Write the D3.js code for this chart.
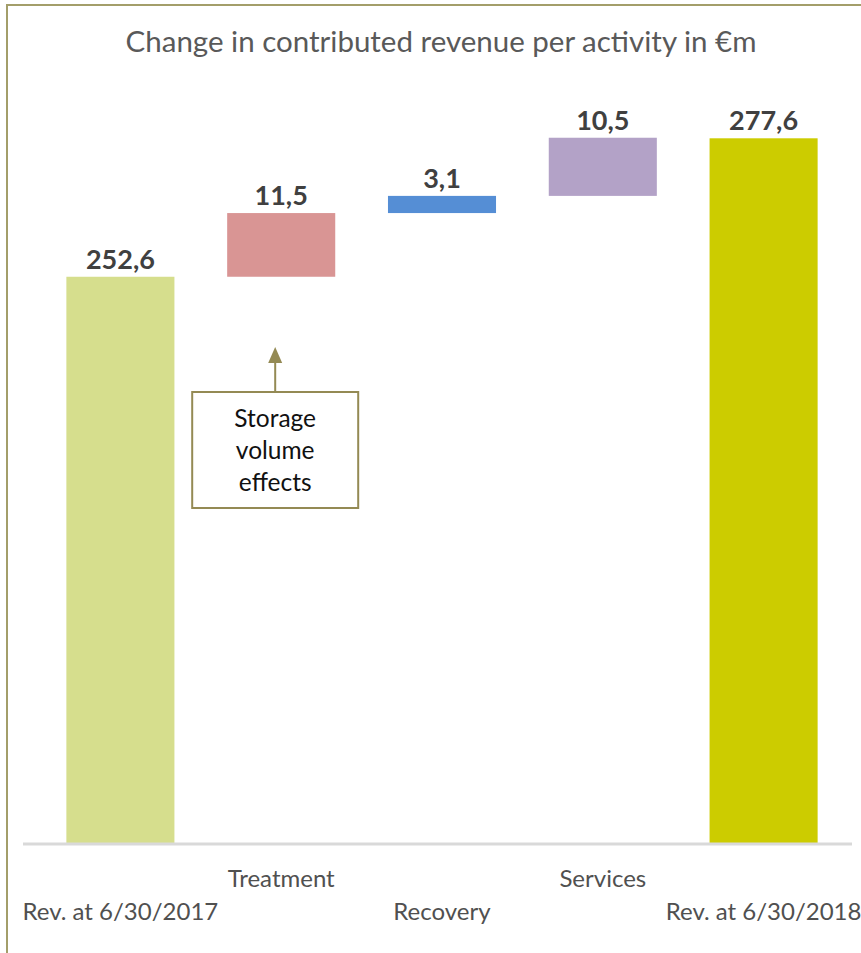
<!DOCTYPE html>
<html>
<head>
<meta charset="utf-8">
<script src="https://cdn.jsdelivr.net/npm/d3@7"></script>
<style>
  body { margin: 0; background: #fff; }
  svg { display: block; font-family: Lato, "Open Sans", sans-serif; }
</style>
</head>
<body>
<div id="chart"></div>
<script>
// waterfall data
let categories = ["Rev. at 6/30/2017", "Treatment", "Recovery", "Services", "Rev. at 6/30/2018"];
let values = [252.6, 11.5, 3.1, 10.5, 277.6];
let isTotal = [true, false, false, false, true];
let labels = ["252,6", "11,5", "3,1", "10,5", "277,6"];
let colors = ["#D6DE8D", "#D99594", "#558ED5", "#B3A2C7", "#CCCC00"];

let width = 861;
let height = 953;

let svg = d3.select("#chart").append("svg")
  .attr("width", width)
  .attr("height", height);

// outer frame (only left and top visible)
svg.append("path")
  .attr("d", "M7,953 V5 H861")
  .attr("fill", "none")
  .attr("stroke", "#A39E6A")
  .attr("stroke-width", 2);

svg.append("text")
  .attr("x", 441)
  .attr("y", 52)
  .attr("text-anchor", "middle")
  .attr("fill", "#595959")
  .style("font-size", "29.5px")
  .text("Change in contributed revenue per activity in €m");

let x = d3.scaleBand()
  .domain(categories)
  .range([40, 844])
  .paddingInner(0.328)
  .paddingOuter(0.164);

let y = d3.scaleLinear()
  .domain([150, 280])
  .range([845, 125]);

// compute start/end for each step
let running = 0;
let steps = categories.map(function(c, i) {
  let start, end;
  if (isTotal[i]) {
    start = y.domain()[0];
    end = values[i];
    running = values[i];
  } else {
    start = running;
    end = running + values[i];
    running = end;
  }
  return { cat: c, start: start, end: end, label: labels[i], color: colors[i] };
});

svg.selectAll("rect.bar")
  .data(steps)
  .enter().append("rect")
  .attr("class", "bar")
  .attr("x", function(d) { return x(d.cat); })
  .attr("width", x.bandwidth())
  .attr("y", function(d) { return y(Math.max(d.start, d.end)); })
  .attr("height", function(d) { return Math.abs(y(d.start) - y(d.end)); })
  .attr("fill", function(d) { return d.color; });

svg.selectAll("text.val")
  .data(steps)
  .enter().append("text")
  .attr("class", "val")
  .attr("x", function(d) { return x(d.cat) + x.bandwidth() / 2; })
  .attr("y", function(d) { return y(Math.max(d.start, d.end)) - 8; })
  .attr("text-anchor", "middle")
  .attr("fill", "#404040")
  .style("font-size", "27px")
  .style("font-weight", "bold")
  .text(function(d) { return d.label; });

// axis baseline
svg.append("line")
  .attr("x1", 23)
  .attr("x2", 852)
  .attr("y1", y(150) - 1)
  .attr("y2", y(150) - 1)
  .attr("stroke", "#D9D9D9")
  .attr("stroke-width", 3);

// staggered category labels
svg.selectAll("text.cat")
  .data(categories)
  .enter().append("text")
  .attr("class", "cat")
  .attr("x", function(d) { return x(d) + x.bandwidth() / 2; })
  .attr("y", function(d, i) { return i % 2 === 1 ? 887 : 920; })
  .attr("text-anchor", "middle")
  .attr("fill", "#505050")
  .style("font-size", "24px")
  .text(function(d) { return d; });

// annotation box with arrow
let cx = x("Treatment") + x.bandwidth() / 2 - 6;
let note = svg.append("g");
note.append("rect")
  .attr("x", cx - 83)
  .attr("y", 392)
  .attr("width", 166)
  .attr("height", 116)
  .attr("fill", "#fff")
  .attr("stroke", "#948A54")
  .attr("stroke-width", 2);
note.append("line")
  .attr("x1", cx).attr("x2", cx)
  .attr("y1", 392).attr("y2", 360)
  .attr("stroke", "#948A54")
  .attr("stroke-width", 2);
note.append("path")
  .attr("d", "M" + (cx - 7) + ",363 L" + cx + ",347 L" + (cx + 7) + ",363 Z")
  .attr("fill", "#948A54");
["Storage", "volume", "effects"].forEach(function(t, i) {
  note.append("text")
    .attr("x", cx)
    .attr("y", 427 + i * 32)
    .attr("text-anchor", "middle")
    .attr("fill", "#111")
    .style("font-size", "24.5px")
    .text(t);
});
</script>
</body>
</html>
